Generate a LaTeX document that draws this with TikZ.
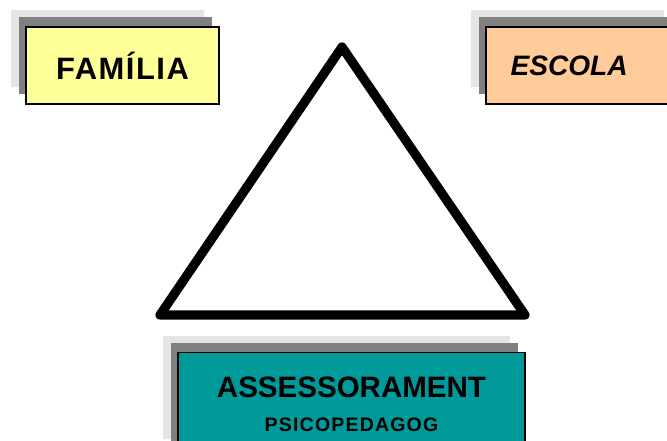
\documentclass[tikz,border=0pt]{standalone}
\usepackage{fontspec}
\setmainfont{Liberation Sans}
\usetikzlibrary{shadows}
\definecolor{famfill}{HTML}{FFFF99}
\definecolor{escfill}{HTML}{FFCC99}
\definecolor{asefill}{HTML}{009999}
\definecolor{shadedark}{HTML}{808080}
\definecolor{shadelight}{HTML}{E5E5E5}
\begin{document}
\begin{tikzpicture}[
  box/.style={draw, line width=0.8pt, font=\bfseries, inner sep=0pt,
    general shadow={fill=shadelight, shadow xshift=-0.375cm, shadow yshift=0.425cm},
    general shadow={fill=shadedark, shadow xshift=-0.175cm, shadow yshift=0.25cm}}]
\useasboundingbox (0,0) rectangle (16.675,11.025);

\node[box, fill=famfill, minimum width=4.825cm, minimum height=1.925cm] (familia)
 at (3.0625,9.3875) {\fontsize{22pt}{26pt}\selectfont\addfontfeatures{LetterSpace=5}FAMÍLIA};

\node[box, fill=escfill, minimum width=4.825cm, minimum height=1.925cm,
 text width=3.6cm, inner xsep=0.6cm, align=left] (escola)
 at (14.5625,9.3875) {\fontsize{20pt}{24pt}\selectfont\itshape ESCOLA};

\node[box, fill=asefill, minimum width=8.675cm, minimum height=2.575cm, align=center,
 anchor=north, font=\bfseries\fontsize{21pt}{24.2pt}\selectfont] (assess) at (8.7875,2.225)
 {ASSESSORAMENT\\
  \fontsize{13.9pt}{24.2pt}\selectfont\addfontfeatures{LetterSpace=6}PSICOPEDAGOG};

% triangle
\coordinate (apex) at (8.55,9.85);
\coordinate (left) at (4.0,3.15);
\coordinate (right) at (13.125,3.15);
\draw[line width=0.23cm, line join=round] (apex) -- (left) -- (right) -- cycle;
\end{tikzpicture}
\end{document}
